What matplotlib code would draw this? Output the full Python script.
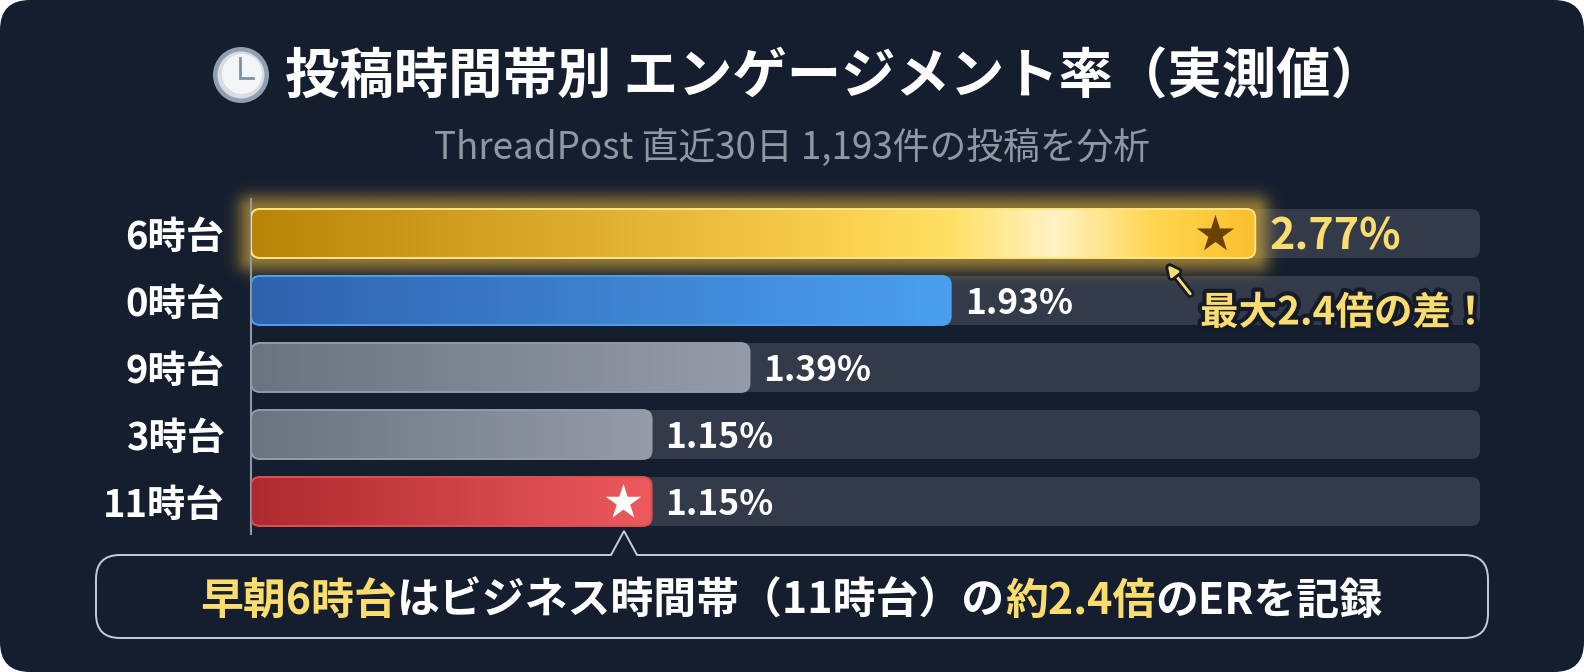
import numpy as np
import matplotlib
matplotlib.use('Agg')
import matplotlib.pyplot as plt
import matplotlib.patheffects as pe
from matplotlib.colors import LinearSegmentedColormap, to_rgb
from matplotlib.patches import Circle, FancyBboxPatch, PathPatch
from matplotlib.path import Path

plt.rcParams['font.family'] = ['Noto Sans CJK JP', 'DejaVu Sans']

# Data
hours = ['6時台', '0時台', '9時台', '3時台', '11時台']
value_labels = ['2.77%', '1.93%', '1.39%', '1.15%', '1.15%']
# bar lengths as drawn: the two 1.15% bars are a little shorter than their label says
bar_lengths = [2.77, 1.93, 1.375, 1.105, 1.105]
axis_max = 3.39

title = '投稿時間帯別 エンゲージメント率（実測値）'
subtitle = 'ThreadPost 直近30日 1,193件の投稿を分析'
callout = '最大2.4倍の差！'
footer_parts = [('早朝6時台', 'gold'), ('はビジネス時間帯（11時台）の', 'white'),
                ('約2.4倍', 'gold'), ('のERを記録', 'white')]

GOLD = '#fbdc6e'
BG = '#151e2e'
TRACK = '#333b4a'
bar_stops = [
    [(0, '#b98508'), (0.3, '#dba92c'), (0.6, '#fad24f'), (0.7, '#ffe066'),
     (0.8, '#fff3c6'), (0.9, '#ffd650'), (1, '#fbbf2e')],
    [(0, '#2f62ad'), (1, '#4aa0f0')],
    [(0, '#6c7380'), (1, '#959ca8')],
    [(0, '#6c7380'), (1, '#959ca8')],
    [(0, '#ad2a2e'), (1, '#ec5a5c')],
]
bar_edges = ['#ffe680', '#4f9ff0', '#959ca8', '#959ca8', '#e0504f']

W, H = 1584, 672
fig = plt.figure(figsize=(W / 100, H / 100), dpi=100, facecolor='white')

# page axes in pixel units, for the panel and the free text
bg = fig.add_axes([0, 0, 1, 1])
bg.set_xlim(0, W)
bg.set_ylim(H, 0)
bg.axis('off')
panel = FancyBboxPatch((0, 0), W, H, boxstyle='round,pad=0,rounding_size=30',
                       fc=BG, ec='none')
bg.add_patch(panel)

# title
bg.text(285, 78, title, color='white', fontsize=39.2, fontweight='bold', ha='left', va='center')
bg.text(792, 148, subtitle, color='#8f97a3', fontsize=26.5, ha='center', va='center')

# clock icon
bg.add_patch(Circle((241, 75), 28, fc='#8fa0b2', ec='none'))
bg.add_patch(Circle((241, 75), 23.5, fc='#d9dde3', ec='none'))
bg.add_patch(Circle((242, 74), 20, fc='#f4f5f6', ec='none'))
bg.plot([240, 240, 253], [58, 78, 78], color='#7d909f', lw=2, solid_joinstyle='miter')

# bar axes
bar_left, bar_right = 251, 1480
bar_top, bar_bottom = 199, 534
ax = fig.add_axes([bar_left / W, 1 - bar_bottom / H,
                   (bar_right - bar_left) / W, (bar_bottom - bar_top) / H])
ax.patch.set_alpha(0)
row_px = 67
ax.set_xlim(0, axis_max)
ax.set_ylim((bar_bottom - 233.5) / row_px, (bar_top - 233.5) / row_px)
px_x = axis_max / (bar_right - bar_left)
px_y = 1 / row_px
bar_h = 49 * px_y
aspect = px_y / px_x
rows = np.arange(len(hours))


def rounded(x0, x1, y, **kw):
    return FancyBboxPatch((x0, y - bar_h / 2), x1 - x0, bar_h,
                          boxstyle=f'round,pad=0,rounding_size={9 * px_x}',
                          mutation_aspect=aspect, **kw)


for y in rows:
    ax.add_patch(rounded(0, axis_max, y, fc=TRACK, ec='none', zorder=1))

# glow behind the top bar
glow_px = 40
gx = np.linspace(-glow_px, bar_lengths[0] / px_x + glow_px, 500)
gy = np.linspace(-24.5 - glow_px, 24.5 + glow_px, 120)
xx, yy = np.meshgrid(gx, gy)
dx = np.maximum(np.maximum(-xx, xx - bar_lengths[0] / px_x), 0)
dy = np.maximum(np.abs(yy) - 24.5, 0)
dist = np.hypot(dx, dy)
rgba = np.zeros(dist.shape + (4,))
rgba[..., :3] = to_rgb('#f0bd3a')
rgba[..., 3] = 0.55 * np.exp(-(dist / 15) ** 2)
ax.imshow(rgba, extent=(gx[0] * px_x, gx[-1] * px_x, gy[-1] * px_y, gy[0] * px_y),
          aspect='auto', zorder=2, clip_on=False, interpolation='bilinear')

for y, length, stops, edge in zip(rows, bar_lengths, bar_stops, bar_edges):
    cmap = LinearSegmentedColormap.from_list('bar', stops)
    shape = rounded(0, length, y, fc='none', ec='none', zorder=3)
    ax.add_patch(shape)
    grad = ax.imshow(np.linspace(0, 1, 256)[None, :], cmap=cmap, aspect='auto', zorder=3,
                     extent=(0, length, y + bar_h / 2, y - bar_h / 2))
    grad.set_clip_path(shape)
    ax.add_patch(rounded(0, length, y, fc='none', ec=edge, lw=1.4, zorder=4))

for y, length, label in zip(rows, bar_lengths, value_labels):
    first = y == 0
    ax.text(length + 14 * px_x, y + 3 * px_y, label, color=GOLD if first else 'white',
            fontsize=31 if first else 25.5, fontweight='bold', va='center', ha='left', zorder=5)

# stars inside the top and bottom bars
ax.scatter(bar_lengths[0] - 40 * px_x, 0, marker='*', s=800, color='#6b4300', lw=0, zorder=5)
ax.scatter(bar_lengths[4] - 29 * px_x, 4, marker='*', s=720, color='white', lw=0, zorder=5)

ax.set_xlim(0, axis_max)
ax.set_ylim((bar_bottom - 233.5) / row_px, (bar_top - 233.5) / row_px)
ax.set_xticks([])
ax.set_yticks(rows, hours, color='white', fontsize=27.5, fontweight='bold')
ax.tick_params(axis='y', length=0, pad=19)
for side in ['top', 'right', 'bottom']:
    ax.spines[side].set_visible(False)
ax.spines['left'].set_color('#8f98a6')
ax.spines['left'].set_linewidth(1.5)

# overlay axes for what sits on top of the bars
top = fig.add_axes([0, 0, 1, 1])
top.set_xlim(0, W)
top.set_ylim(H, 0)
top.axis('off')
outline = [pe.withStroke(linewidth=6, foreground='#141c2c')]
top.annotate('', xy=(1166, 263), xytext=(1192, 296),
             arrowprops=dict(arrowstyle='-|>,head_length=0.6,head_width=0.3', color=GOLD, lw=2,
                             path_effects=outline))
top.text(1200, 313, callout, color=GOLD, fontsize=27.8, fontweight='bold', va='center', ha='left',
         path_effects=outline)

# footer box with its pointer
x0, x1, y0, y1, r = 96, 1488, 555, 638, 24
tip_x = 624
verts = [(x0 + r, y0), (tip_x - 13, y0), (tip_x, y0 - 24), (tip_x + 13, y0), (x1 - r, y0),
         (x1, y0), (x1, y0 + r), (x1, y1 - r), (x1, y1), (x1 - r, y1), (x0 + r, y1),
         (x0, y1), (x0, y1 - r), (x0, y0 + r), (x0, y0), (x0 + r, y0), (x0 + r, y0)]
codes = [Path.MOVETO, Path.LINETO, Path.LINETO, Path.LINETO, Path.LINETO,
         Path.CURVE3, Path.CURVE3, Path.LINETO, Path.CURVE3, Path.CURVE3, Path.LINETO,
         Path.CURVE3, Path.CURVE3, Path.LINETO, Path.CURVE3, Path.CURVE3, Path.CLOSEPOLY]
top.add_patch(PathPatch(Path(verts, codes), fc=BG, ec='#c4cdd8', lw=1.4))

# footer sentence, one text per colour, laid end to end
renderer = fig.canvas.get_renderer()
cursor = 200
for part, colour in footer_parts:
    t = top.text(cursor, 601, part, color=GOLD if colour == 'gold' else 'white', fontsize=30.9,
                 fontweight='bold', va='center', ha='left')
    box = t.get_window_extent(renderer)
    cursor += box.width

fig.savefig('out.png', dpi=100, facecolor=fig.get_facecolor())
